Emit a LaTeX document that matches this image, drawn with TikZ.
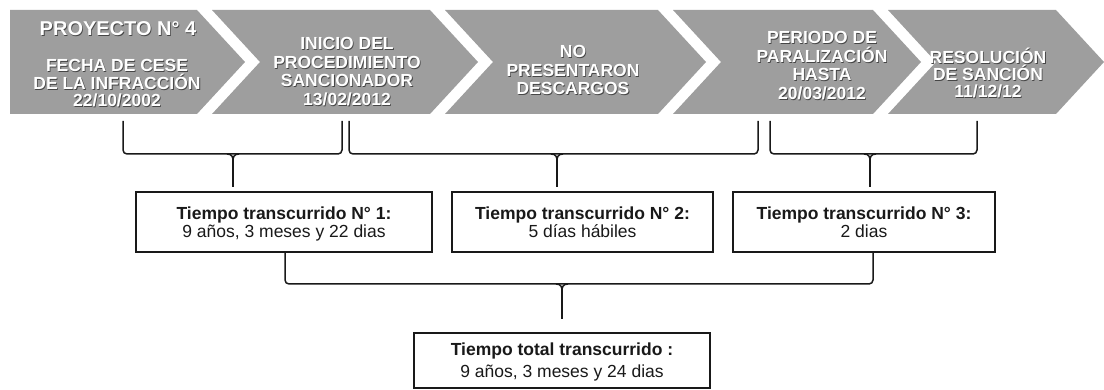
\documentclass[tikz,border=0pt]{standalone}
\usepackage{fontspec}
\setmainfont{Liberation Sans}
\definecolor{chev}{RGB}{158,158,158}
\definecolor{shad}{RGB}{70,70,70}
\definecolor{ink}{RGB}{25,25,25}
\newcommand\shd[1]{\rlap{\kern0.8pt\raisebox{-0.8pt}{\textcolor{shad}{#1}}}#1}
\newcommand\nodp[1]{\raisebox{0pt}[\height][0pt]{#1}}
\begin{document}
\begin{tikzpicture}[x=1pt,y=-1pt,
  chevron/.style={fill=chev, draw=none},
  ctext/.style={font=\bfseries\fontsize{17.5}{18}\selectfont, text=white, inner sep=0pt, anchor=base},
  ttext/.style={font=\bfseries\fontsize{20}{22}\selectfont, text=white, inner sep=0pt, anchor=base},
  infobox/.style={draw=ink, line width=1.3pt, fill=white, minimum height=60pt, inner sep=0pt, align=center, font=\fontsize{17.5}{18.5}\selectfont, text=ink},
  bracket/.style={draw=ink, line width=1.5pt, rounded corners=4pt},
  stem/.style={draw=ink, line width=1.5pt}]
\useasboundingbox (0,0) rectangle (1104,390);
% chevrons
\fill[chevron] (10,10) -- (197,10) -- (245,62) -- (197,114) -- (10,114) -- cycle;
\fill[chevron] (212,10) -- (430,10) -- (478,62) -- (430,114) -- (212,114) -- (260,62) -- cycle;
\fill[chevron] (445,10) -- (658,10) -- (706,62) -- (658,114) -- (445,114) -- (493,62) -- cycle;
\fill[chevron] (673,10) -- (873,10) -- (921,62) -- (873,114) -- (673,114) -- (721,62) -- cycle;
\fill[chevron] (888,10) -- (1056,10) -- (1104,62) -- (1056,114) -- (888,114) -- (936,62) -- cycle;
% chevron texts
\node[ttext] (p4) at (118,36) {\shd{PROYECTO N° 4}};
\node[ctext] (c1a) at (117,72) {\shd{FECHA DE CESE}};
\node[ctext] (c1b) at (117,90) {\shd{DE LA INFRACCIÓN}};
\node[ctext] (c1c) at (117,107) {\shd{22/10/2002}};
\node[ctext] (c2a) at (347,50) {\shd{INICIO DEL}};
\node[ctext] (c2b) at (347,68.5) {\shd{PROCEDIMIENTO}};
\node[ctext] (c2c) at (347,87) {\shd{SANCIONADOR}};
\node[ctext] (c2d) at (347,105.5) {\shd{13/02/2012}};
\node[ctext] (c3a) at (573,58) {\shd{NO}};
\node[ctext] (c3b) at (573,76.5) {\shd{PRESENTARON}};
\node[ctext] (c3c) at (573,95) {\shd{DESCARGOS}};
\node[ctext] (c4a) at (822,44) {\shd{PERIODO DE}};
\node[ctext] (c4b) at (822,62.5) {\shd{PARALIZACIÓN}};
\node[ctext] (c4c) at (822,81) {\shd{HASTA}};
\node[ctext] (c4d) at (822,100) {\shd{20/03/2012}};
\node[ctext] (c5a) at (988,64) {\shd{RESOLUCIÓN}};
\node[ctext] (c5b) at (988,81) {\shd{DE SANCIÓN}};
\node[ctext] (c5c) at (988,98) {\shd{11/12/12}};
% boxes
\node[infobox, minimum width=296pt] (t1) at (284,222) {\textbf{Tiempo transcurrido N° 1:}\\\nodp{9 años, 3 meses y 22 dias}};
\node[infobox, minimum width=261pt] (t2) at (582.5,222) {\textbf{Tiempo transcurrido N° 2:}\\\nodp{5 días hábiles}};
\node[infobox, minimum width=262pt] (t3) at (864,222) {\textbf{Tiempo transcurrido N° 3:}\\\nodp{2 dias}};
\node[infobox, minimum width=296pt, minimum height=55pt, font=\fontsize{17.5}{22}\selectfont] (tt) at (562,360.5) {\textbf{Tiempo total transcurrido :}\\\nodp{9 años, 3 meses y 24 dias}};
% upper brackets
\coordinate (b1l) at (123,121); \coordinate (b1r) at (342,121);
\coordinate (b2l) at (349,121); \coordinate (b2r) at (758,121);
\coordinate (b3l) at (770,121); \coordinate (b3r) at (977,121);
\draw[bracket] (b1l) -- (123,154) -- (342,154) -- (b1r);
\draw[bracket] (b2l) -- (349,154) -- (758,154) -- (b2r);
\draw[bracket] (b3l) -- (770,154) -- (977,154) -- (b3r);
\coordinate (s1) at (233,161); \coordinate (s2) at (557,161); \coordinate (s3) at (870,161);
\foreach \s in {s1,s2,s3}{
  \draw[stem] ([xshift=-6pt,yshift=7pt]\s) .. controls ([xshift=-1pt,yshift=7pt]\s) and ([yshift=4pt]\s) .. (\s)
     .. controls ([yshift=4pt]\s) and ([xshift=1pt,yshift=7pt]\s) .. ([xshift=6pt,yshift=7pt]\s);
}
\draw[stem] (s1) -- ([yshift=4pt]t1.north -| s1);
\draw[stem] (s2) -- ([yshift=4pt]t2.north -| s2);
\draw[stem] (s3) -- ([yshift=4pt]t3.north -| s3);
% lower bracket
\coordinate (lbL) at (285,284); \coordinate (lbR) at (873,284);
\draw[bracket] (t1.south -| lbL) -- (lbL) -- (lbR) -- (t3.south -| lbR);
\coordinate (s4) at (562,291);
\draw[stem] ([xshift=-6pt,yshift=7pt]s4) .. controls ([xshift=-1pt,yshift=7pt]s4) and ([yshift=4pt]s4) .. (s4)
   .. controls ([yshift=4pt]s4) and ([xshift=1pt,yshift=7pt]s4) .. ([xshift=6pt,yshift=7pt]s4);
\draw[stem] (s4) -- ([yshift=13pt]tt.north -| s4);
\end{tikzpicture}
\end{document}
